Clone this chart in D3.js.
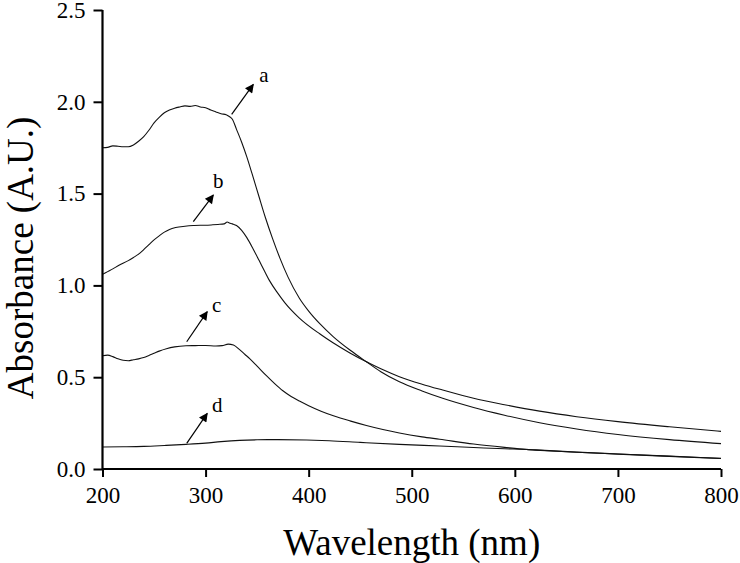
<!DOCTYPE html>
<html>
<head>
<meta charset="utf-8">
<script src="https://cdn.jsdelivr.net/npm/d3@7"></script>
<style>
  html, body { margin: 0; padding: 0; background: #fff; }
  svg { display: block; }
</style>
</head>
<body>
<svg id="chart" width="740" height="563"></svg>
<script>
// ---- Data ----
const xTicks = [200, 300, 400, 500, 600, 700, 800];
const yTicks = [0.0, 0.5, 1.0, 1.5, 2.0, 2.5];

const waveA = [200,205,210,215,220,225,230,235,240,245,250,255,260,265,270,275,280,285,290,295,300,305,310,315,320,323,326,330,335,340,345,352,358,365,372,380,391,400,411,424,440,456,470,488,510,530,560,590,624,660,700,750,800];
const absA  = [1.75,1.752,1.76,1.758,1.755,1.755,1.765,1.785,1.81,1.845,1.885,1.915,1.94,1.955,1.965,1.972,1.978,1.975,1.98,1.972,1.968,1.955,1.945,1.935,1.93,1.92,1.905,1.85,1.78,1.70,1.61,1.48,1.37,1.255,1.15,1.045,0.93,0.86,0.79,0.72,0.648,0.584,0.53,0.475,0.425,0.385,0.335,0.293,0.252,0.218,0.188,0.16,0.138];

const waveB = [200,205,210,216,225,230,235,240,245,250,255,260,265,271,280,288,295,300,307,312,318,321,323,326,330,335,340,346,352,357,362,370,377,391,411,424,440,456,470,488,510,530,560,590,624,660,700,750,800];
const absB  = [1.06,1.075,1.09,1.11,1.135,1.152,1.17,1.195,1.222,1.248,1.27,1.29,1.305,1.315,1.322,1.326,1.328,1.328,1.33,1.332,1.335,1.345,1.34,1.335,1.326,1.30,1.26,1.20,1.135,1.08,1.026,0.958,0.905,0.822,0.735,0.686,0.632,0.584,0.546,0.503,0.462,0.43,0.385,0.35,0.315,0.285,0.258,0.23,0.205];

const waveC = [200,205,210,215,220,225,230,235,240,245,250,255,262,270,281,290,300,310,316,322,327,333,338,343,350,359,367,375,383,391,400,412,424,440,456,472,488,510,527,560,590,611,620,660,700,750,800];
const absC  = [0.617,0.62,0.612,0.60,0.592,0.59,0.595,0.60,0.607,0.618,0.63,0.642,0.655,0.665,0.671,0.672,0.673,0.67,0.672,0.68,0.675,0.65,0.625,0.60,0.56,0.508,0.465,0.426,0.395,0.37,0.345,0.315,0.29,0.262,0.237,0.215,0.196,0.175,0.162,0.136,0.118,0.107,0.104,0.092,0.082,0.07,0.058];

const waveD = [200,220,240,260,281,300,315,333,350,370,398,420,450,488,527,560,590,611,620,660,700,750,800];
const absD  = [0.12,0.121,0.123,0.128,0.134,0.141,0.149,0.156,0.159,0.16,0.158,0.154,0.145,0.134,0.125,0.117,0.11,0.106,0.103,0.091,0.081,0.069,0.057];

// Annotation labels and arrows (data units)
const labelNames = ["a", "b", "c", "d"];
const labelX     = [356.6, 312.3, 310.8, 311.3];
const labelY     = [2.109, 1.529, 0.857, 0.312];
const arrowX0    = [325.3, 288.1, 281.7, 281.7];
const arrowY0    = [1.932, 1.347, 0.693, 0.140];
const arrowX1    = [346.3, 307.5, 301.6, 301.6];
const arrowY1    = [2.095, 1.492, 0.857, 0.303];

const SERIF = "'Liberation Serif', 'Times New Roman', Times, 'DejaVu Serif', serif";

// ---- Layout ----
const svg = d3.select("#chart");
const x = d3.scaleLinear().domain([200, 800]).range([102.5, 721]);
const y = d3.scaleLinear().domain([0, 2.5]).range([469, 10]);

const series = [
  {w: waveA, v: absA},
  {w: waveB, v: absB},
  {w: waveC, v: absC},
  {w: waveD, v: absD}
];

const line = d3.line()
  .x(d => x(d[0]))
  .y(d => y(d[1]))
  .curve(d3.curveMonotoneX);

svg.append("g").selectAll("path")
  .data(series)
  .join("path")
  .attr("d", s => line(s.w.map((w, i) => [w, s.v[i]])))
  .attr("fill", "none")
  .attr("stroke", "#111")
  .attr("stroke-width", 1.1);

// Axes
const xAxis = d3.axisBottom(x).tickValues(xTicks).tickSize(8).tickPadding(10).tickFormat(d3.format("d"));
const yAxis = d3.axisLeft(y).tickValues(yTicks).tickSize(9).tickPadding(8).tickFormat(d3.format(".1f"));

const gx = svg.append("g").attr("transform", `translate(0,${y(0)})`).call(xAxis);
const gy = svg.append("g").attr("transform", `translate(${x(200)},0)`).call(yAxis);

[gx, gy].forEach(g => {
  g.attr("font-family", null).attr("font-size", null);
  g.select(".domain").attr("stroke", "#000").attr("stroke-width", 2.2);
  g.selectAll(".tick line").attr("stroke", "#000").attr("stroke-width", 2);
  g.selectAll(".tick text")
    .style("font-family", SERIF)
    .style("font-size", "23px")
    .attr("fill", "#000");
});
gx.select(".domain").attr("d", `M${x(200)},0H${x(800)}`);
gy.select(".domain").attr("d", `M0,${y(0)}V${y(2.5)}`);

// Axis titles
svg.append("text")
  .attr("x", (x(200) + x(800)) / 2)
  .attr("y", 555)
  .attr("text-anchor", "middle")
  .style("font-family", SERIF)
  .style("font-size", "37px")
  .attr("fill", "#000")
  .text("Wavelength (nm)");

svg.append("text")
  .attr("transform", `translate(33,${y(1.15)}) rotate(-90)`)
  .attr("text-anchor", "middle")
  .style("font-family", SERIF)
  .style("font-size", "37px")
  .attr("fill", "#000")
  .text("Absorbance (A.U.)");

// Arrow marker
svg.append("defs").append("marker")
  .attr("id", "arrowhead")
  .attr("viewBox", "0 0 10 10")
  .attr("refX", 9)
  .attr("refY", 5)
  .attr("markerUnits", "userSpaceOnUse")
  .attr("markerWidth", 11)
  .attr("markerHeight", 9)
  .attr("orient", "auto")
  .append("path")
  .attr("d", "M0,0 L10,5 L0,10 Z")
  .attr("fill", "#000");

const ann = svg.append("g");
labelNames.forEach((name, i) => {
  ann.append("line")
    .attr("x1", x(arrowX0[i])).attr("y1", y(arrowY0[i]))
    .attr("x2", x(arrowX1[i])).attr("y2", y(arrowY1[i]))
    .attr("stroke", "#000")
    .attr("stroke-width", 1.2)
    .attr("marker-end", "url(#arrowhead)");
  ann.append("text")
    .attr("x", x(labelX[i]))
    .attr("y", y(labelY[i]))
    .attr("text-anchor", "middle")
    .style("font-family", SERIF)
    .style("font-size", "21px")
    .attr("fill", "#000")
    .text(name);
});
</script>
</body>
</html>
